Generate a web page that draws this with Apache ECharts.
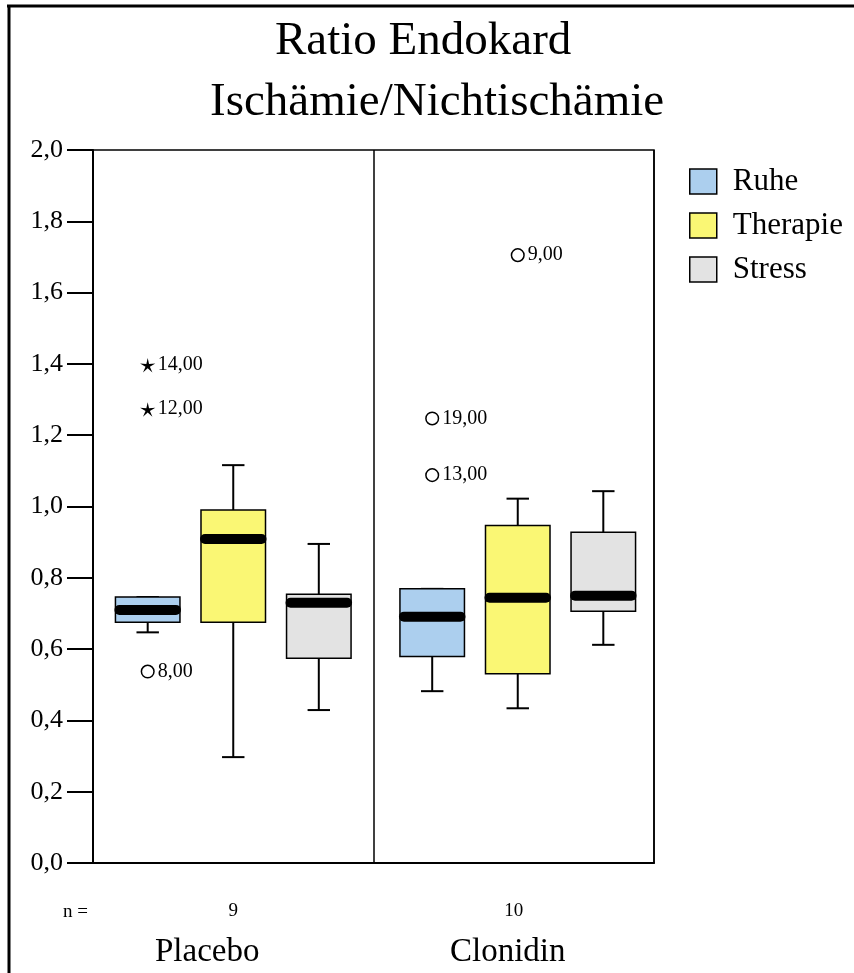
<!DOCTYPE html>
<html>
<head>
<meta charset="utf-8">
<script src="https://cdn.jsdelivr.net/npm/echarts@6/dist/echarts.min.js"></script>
<style>
html,body{margin:0;padding:0;background:#fff;}
#chart{width:854px;height:973px;}
</style>
</head>
<body>
<div id="chart"></div>
<script>
// ---- data ----
var groups = ['Placebo', 'Clonidin'];
var nCounts = ['9', '10'];
var seriesNames = ['Ruhe', 'Therapie', 'Stress'];
// [min, Q1, median, Q3, max] per group
var ruhe = [[0.647, 0.675, 0.710, 0.746, 0.746], [0.482, 0.579, 0.691, 0.769, 0.769]];
var therapie = [[0.297, 0.675, 0.909, 0.990, 1.116], [0.434, 0.531, 0.744, 0.947, 1.022]];
var stress = [[0.429, 0.574, 0.730, 0.754, 0.895], [0.612, 0.706, 0.750, 0.928, 1.043]];
// outliers: [group index, series index, value, label, kind]
var outliers = [
  [0, 0, 0.537, '8,00', 'circle'],
  [0, 0, 1.273, '12,00', 'star'],
  [0, 0, 1.397, '14,00', 'star'],
  [1, 0, 1.088, '13,00', 'circle'],
  [1, 0, 1.247, '19,00', 'circle'],
  [1, 1, 1.705, '9,00', 'circle']
];
var yTickLabels = ['0,0', '0,2', '0,4', '0,6', '0,8', '1,0', '1,2', '1,4', '1,6', '1,8', '2,0'];

var colors = ['#accfee', '#faf774', '#e3e3e3'];
var FONT = '"Liberation Serif", "Times New Roman", serif';
var OFFSET = 0.305, HALF = 0.115, CAP = 0.04;

function boxRender(sub) {
  return function (params, api) {
    var cat = api.value(0);
    var band = api.size([1, 0])[0];
    var cx = api.coord([cat, 0])[0] + (sub - 1) * OFFSET * band + cat * 4;
    var half = HALF * band, cap = CAP * band;
    function y(k) { return api.coord([cat, api.value(k)])[1]; }
    var yMin = y(1), yQ1 = y(2), yMed = y(3), yQ3 = y(4), yMax = y(5);
    var ls = { stroke: '#000', lineWidth: 2 };
    return {
      type: 'group',
      children: [
        { type: 'line', shape: { x1: cx, y1: yQ1, x2: cx, y2: yMin }, style: ls },
        { type: 'line', shape: { x1: cx - cap, y1: yMin, x2: cx + cap, y2: yMin }, style: ls },
        { type: 'line', shape: { x1: cx, y1: yQ3, x2: cx, y2: yMax }, style: ls },
        { type: 'line', shape: { x1: cx - cap, y1: yMax, x2: cx + cap, y2: yMax }, style: ls },
        { type: 'rect', shape: { x: cx - half, y: yQ3, width: 2 * half, height: yQ1 - yQ3 },
          style: { fill: colors[sub], stroke: '#000', lineWidth: 1.5 } },
        { type: 'line', shape: { x1: cx - half + 4, y1: yMed, x2: cx + half - 4, y2: yMed },
          style: { stroke: '#000', lineWidth: 10, lineCap: 'round' } }
      ]
    };
  };
}

function outlierRender(params, api) {
  var item = outliers[params.dataIndex];
  var cat = api.value(0);
  var band = api.size([1, 0])[0];
  var p = api.coord([cat, api.value(2)]);
  var cx = p[0] + (item[1] - 1) * OFFSET * band + cat * 4;
  var cy = p[1];
  var marker;
  if (item[4] === 'star') {
    var pts = [];
    for (var i = 0; i < 10; i++) {
      var r = (i % 2 === 0) ? 8 : 2.3;
      var a = -Math.PI / 2 + i * Math.PI / 5;
      pts.push([cx + r * Math.cos(a), cy + 1 + r * Math.sin(a)]);
    }
    marker = { type: 'polygon', shape: { points: pts }, style: { fill: '#000' } };
  } else {
    marker = { type: 'circle', shape: { cx: cx, cy: cy, r: 6.3 },
      style: { fill: '#fff', stroke: '#000', lineWidth: 1.5 } };
  }
  return {
    type: 'group',
    children: [
      marker,
      { type: 'text', x: cx + 10, y: cy,
        style: { text: item[3], fill: '#000', font: '20px ' + FONT,
          textAlign: 'left', textVerticalAlign: 'middle' } }
    ]
  };
}

function toData(arr) {
  return arr.map(function (v, i) { return [i].concat(v); });
}

var chart = echarts.init(document.getElementById('chart'), null, { renderer: 'canvas' });
var option = {
  backgroundColor: '#fff',
  animation: false,
  title: [
    { text: 'Ratio Endokard', left: 275, top: 18, padding: 0,
      textStyle: { fontFamily: FONT, fontSize: 47, fontWeight: 'normal', color: '#000' } },
    { text: 'Ischämie/Nichtischämie', left: 210, top: 79, padding: 0,
      textStyle: { fontFamily: FONT, fontSize: 47, fontWeight: 'normal', color: '#000' } }
  ],
  legend: {
    data: seriesNames,
    orient: 'vertical',
    left: 689, top: 166, padding: 0,
    itemWidth: 27, itemHeight: 25, itemGap: 13,
    icon: 'rect',
    textStyle: { fontFamily: FONT, fontSize: 31, color: '#000', padding: [0, 0, 0, 11] },
    itemStyle: { borderColor: '#000', borderWidth: 1.5 }
  },
  grid: { left: 93, right: 200, top: 150, bottom: 110, show: true, borderColor: '#000', borderWidth: 1.5,
    backgroundColor: 'transparent' },
  xAxis: [
    { type: 'category', data: groups, position: 'bottom', boundaryGap: true,
      axisLine: { lineStyle: { color: '#000', width: 2 } },
      axisTick: { alignWithLabel: true, length: 27, lineStyle: { color: '#000', width: 2 } },
      splitLine: { show: true, lineStyle: { color: '#000', width: 1.5 } },
      axisLabel: { margin: 39, fontFamily: FONT, fontSize: 19, color: '#000',
        formatter: function (v, i) { return nCounts[i]; } } },
    { type: 'category', data: groups, position: 'bottom', boundaryGap: true,
      axisLine: { show: false }, axisTick: { show: false }, splitLine: { show: false },
      axisLabel: { margin: 73, color: '#000',
        formatter: function (v, i) { return '{g' + i + '|' + v + '}'; },
        rich: {
          g0: { fontFamily: FONT, fontSize: 33, color: '#000', padding: [0, 52, 0, 0] },
          g1: { fontFamily: FONT, fontSize: 33, color: '#000', padding: [0, 12, 0, 0] }
        } } }
  ],
  yAxis: {
    type: 'value', min: 0, max: 2, interval: 0.2,
    axisLine: { show: true, lineStyle: { color: '#000', width: 2 } },
    axisTick: { show: true, length: 26, lineStyle: { color: '#000', width: 2 } },
    splitLine: { show: false },
    axisLabel: { margin: 30, fontFamily: FONT, fontSize: 26, color: '#000',
      formatter: function (v, i) { return yTickLabels[Math.round(v / 0.2)]; } }
  },
  graphic: [
    { type: 'line', shape: { x1: 7, y1: 6, x2: 854, y2: 6 }, style: { stroke: '#000', lineWidth: 3 } },
    { type: 'line', shape: { x1: 9, y1: 5, x2: 9, y2: 973 }, style: { stroke: '#000', lineWidth: 3 } },
    { type: 'text', x: 63, y: 912, style: { text: 'n =', font: '19px ' + FONT, fill: '#000',
      textAlign: 'left', textVerticalAlign: 'middle' } }
  ],
  series: [
    { name: 'Ruhe', type: 'custom', xAxisIndex: 0, renderItem: boxRender(0), data: toData(ruhe),
      encode: { x: 0, y: [1, 2, 3, 4, 5] }, itemStyle: { color: colors[0], borderColor: '#000' } },
    { name: 'Therapie', type: 'custom', xAxisIndex: 0, renderItem: boxRender(1), data: toData(therapie),
      encode: { x: 0, y: [1, 2, 3, 4, 5] }, itemStyle: { color: colors[1], borderColor: '#000' } },
    { name: 'Stress', type: 'custom', xAxisIndex: 0, renderItem: boxRender(2), data: toData(stress),
      encode: { x: 0, y: [1, 2, 3, 4, 5] }, itemStyle: { color: colors[2], borderColor: '#000' } },
    { name: 'Ausreißer', type: 'custom', xAxisIndex: 0, renderItem: outlierRender,
      data: outliers.map(function (o) { return [o[0], o[1], o[2]]; }),
      encode: { x: 0, y: 2 }, z: 5 }
  ]
};
chart.setOption(option);
</script>
</body>
</html>
